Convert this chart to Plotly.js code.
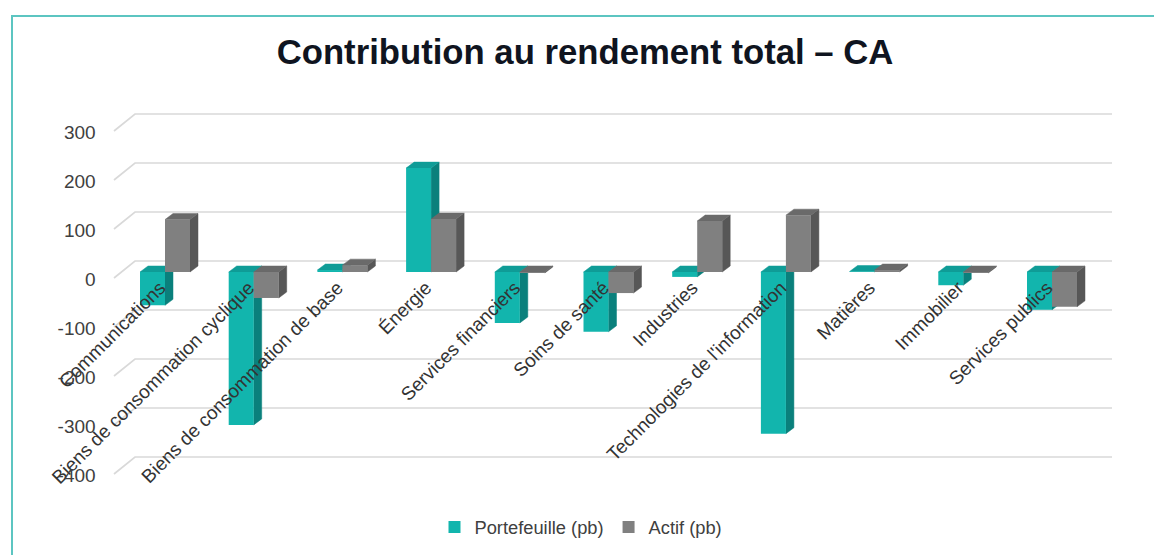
<!DOCTYPE html>
<html>
<head>
<meta charset="utf-8">
<script src="https://cdn.plot.ly/plotly-3.0.1.min.js"></script>
<style>
  html, body { margin: 0; padding: 0; background: #ffffff; overflow: hidden; }
  #chart { width: 1154px; height: 555px; }
  #frame { position: absolute; left: 11px; top: 15px; width: 1200px; height: 600px;
           border-left: 2px solid #5cc5c1; border-top: 2px solid #5cc5c1; pointer-events: none; }
</style>
</head>
<body>
<div id="chart"></div>
<div id="frame"></div>
<script>
// ---------------- data ----------------
const categories = [
  "Communications",
  "Biens de consommation cyclique",
  "Biens de consommation de base",
  "Énergie",
  "Services financiers",
  "Soins de santé",
  "Industries",
  "Technologies de l'information",
  "Matières",
  "Immobilier",
  "Services publics"
];
const portefeuille = [-68, -312, 4, 212, -104, -122, -10, -330, 1, -27, -77];
const actif        = [107, -53, 14, 108, -2, -43, 104, 116, 4, -2, -71];
const yTickVals = [-400, -300, -200, -100, 0, 100, 200, 300];
const yTickText = yTickVals.map(v => String(v));
const seriesNames = ["Portefeuille (pb)", "Actif (pb)"];

// ---------------- geometry ----------------
const W = 1154, H = 555;
const X0PX = 120.65, X1PX = 1096.35;     // front plane horizontal extent
const ZERO_PX = 272, PX_PER_UNIT = 0.49; // front plane vertical scale
const Y_TOP_PX = 60, Y_BOT_PX = 505;
const yRange = [(ZERO_PX - Y_BOT_PX) / PX_PER_UNIT, (ZERO_PX - Y_TOP_PX) / PX_PER_UNIT];
const nCat = categories.length;
const catPx = (X1PX - X0PX) / nCat;
const barW = 25 / catPx;
const depthX = 8 / catPx, depthY = 6 / PX_PER_UNIT;
const idx = categories.map((c, i) => i);

const teal = { front: "#12b5ad", top: "#0f9c97", side: "#0a807c" };
const gray = { front: "#808080", top: "#6a6a6a", side: "#575757" };

function extrusion(values, offset) {
  const top = { x: [], y: [] }, side = { x: [], y: [] };
  values.forEach((v, i) => {
    const xl = i + offset, xr = xl + barW;
    const t = Math.max(v, 0), b = Math.min(v, 0);
    top.x.push(xl, xr, xr + depthX, xl + depthX, xl, null);
    top.y.push(t, t, t + depthY, t + depthY, t, null);
    side.x.push(xr, xr + depthX, xr + depthX, xr, xr, null);
    side.y.push(t, t + depthY, b + depthY, b, t, null);
  });
  return { top, side };
}

function extTraces(values, offset, col, yax) {
  const e = extrusion(values, offset);
  return [
    { type: "scatter", mode: "lines", x: e.side.x, y: e.side.y, yaxis: yax, fill: "toself",
      fillcolor: col.side, line: { color: col.side, width: 0.5 }, showlegend: false, hoverinfo: "skip" },
    { type: "scatter", mode: "lines", x: e.top.x, y: e.top.y, yaxis: yax, fill: "toself",
      fillcolor: col.top, line: { color: col.top, width: 0.5 }, showlegend: false, hoverinfo: "skip" }
  ];
}

const traces = [
  ...extTraces(portefeuille, -barW, teal, "y"),
  { type: "bar", name: seriesNames[0], x: idx, y: portefeuille, yaxis: "y2",
    offset: -barW, width: barW, marker: { color: teal.front, line: { width: 0 } }, hoverinfo: "skip" },
  ...extTraces(actif, 0, gray, "y3"),
  { type: "bar", name: seriesNames[1], x: idx, y: actif, yaxis: "y4",
    offset: 0, width: barW, marker: { color: gray.front, line: { width: 0 } }, hoverinfo: "skip" }
];

// back-wall gridlines with floor diagonals
const frontShift = -6 / PX_PER_UNIT;  // front edge of floor sits 6px below bar base
const backShift = 11 / PX_PER_UNIT;   // back wall sits 11px above bar base
const shapes = yTickVals.map(v => ({
  type: "path", xref: "paper", yref: "y", layer: "below",
  path: "M" + (114 / W) + "," + (v + frontShift) + " L" + (135 / W) + "," + (v + backShift) +
        " L" + (1112 / W) + "," + (v + backShift),
  line: { color: "#d9d9d9", width: 1.7 }
}));

const hiddenY = { overlaying: "y", range: yRange, visible: false, fixedrange: true };

const layout = {
  width: W, height: H,
  margin: { l: 0, r: 0, t: 0, b: 0 },
  paper_bgcolor: "#ffffff", plot_bgcolor: "rgba(0,0,0,0)",
  font: { family: "Liberation Sans, Arial, sans-serif", color: "#333333" },
  title: { text: "<b>Contribution au rendement total – CA</b>", x: 0.5 + 8 / W, xanchor: "center",
           y: 1 - 52 / H, yanchor: "middle", yref: "container",
           font: { size: 34.7, color: "#0f1420", family: "Liberation Sans, Arial, sans-serif" } },
  showlegend: true,
  legend: { orientation: "h", x: 0.5 + 4 / W, xanchor: "center", y: 1 - 527 / H, yanchor: "middle",
            font: { size: 18.3, color: "#404040" }, bgcolor: "rgba(0,0,0,0)", traceorder: "normal" },
  xaxis: { domain: [X0PX / W, X1PX / W], range: [-0.5, nCat - 0.5], tickmode: "array",
           tickvals: idx, ticktext: categories, tickangle: -45, anchor: "free",
           position: 1 - 272 / H, ticklabelshift: -5, showgrid: false, zeroline: false,
           showline: false, ticks: "", tickfont: { size: 19, color: "#333333" }, fixedrange: true },
  yaxis: { domain: [1 - Y_BOT_PX / H, 1 - Y_TOP_PX / H], range: yRange, tickmode: "array",
           tickvals: yTickVals, ticktext: yTickText, showgrid: false, zeroline: false,
           showline: false, ticks: "", ticklabelshift: 7, ticklabelstandoff: 24,
           tickfont: { size: 19, color: "#404040" }, fixedrange: true },
  yaxis2: hiddenY, yaxis3: hiddenY, yaxis4: hiddenY,
  shapes: shapes,
  hovermode: false
};

Plotly.newPlot("chart", traces, layout, { displayModeBar: false, staticPlot: true });
</script>
</body>
</html>
